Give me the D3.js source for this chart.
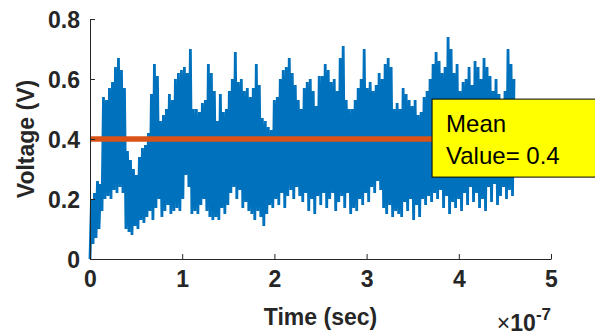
<!DOCTYPE html>
<html>
<head>
<meta charset="utf-8">
<script src="https://cdn.jsdelivr.net/npm/d3@7"></script>
<style>
  html, body { margin: 0; padding: 0; background: #fff; }
  svg { display: block; font-family: "Liberation Sans", Arial, sans-serif; }
</style>
</head>
<body>
<svg width="595" height="335"></svg>
<script>
// Upper and lower swings of the voltage trace, one pair per sampling slot
var hiV = [0.20,0.22,0.26,0.25,0.54,0.53,0.57,0.59,0.64,0.67,0.63,0.57,0.36,0.33,0.30,0.28,0.34,0.37,0.38,0.42,
           0.55,0.65,0.61,0.46,0.48,0.50,0.55,0.53,0.60,0.62,0.63,0.64,0.62,0.70,0.50,0.50,0.49,0.52,0.53,0.65,
           0.62,0.56,0.46,0.55,0.49,0.50,0.56,0.60,0.69,0.59,0.60,0.56,0.57,0.54,0.57,0.65,0.58,0.47,0.46,0.44,
           0.43,0.53,0.54,0.60,0.63,0.64,0.67,0.62,0.58,0.53,0.50,0.57,0.59,0.60,0.56,0.51,0.61,0.61,0.65,0.63,
           0.59,0.60,0.56,0.67,0.71,0.53,0.50,0.50,0.53,0.57,0.60,0.70,0.57,0.59,0.56,0.58,0.62,0.60,0.65,0.67,
           0.64,0.50,0.52,0.50,0.57,0.55,0.53,0.51,0.53,0.48,0.49,0.54,0.56,0.60,0.65,0.69,0.66,0.62,0.64,0.74,
           0.70,0.62,0.65,0.56,0.59,0.60,0.64,0.58,0.66,0.64,0.60,0.67,0.64,0.61,0.56,0.60,0.55,0.53,0.56,0.70,
           0.65,0.60];
var loV = [0.00,0.05,0.07,0.10,0.16,0.20,0.21,0.20,0.23,0.22,0.24,0.22,0.10,0.09,0.08,0.11,0.10,0.13,0.12,0.14,
           0.16,0.13,0.17,0.20,0.14,0.16,0.18,0.15,0.16,0.17,0.16,0.20,0.28,0.24,0.15,0.16,0.15,0.18,0.20,0.16,
           0.14,0.13,0.14,0.13,0.17,0.15,0.18,0.22,0.24,0.20,0.23,0.17,0.19,0.16,0.15,0.13,0.16,0.14,0.11,0.15,
           0.18,0.17,0.20,0.18,0.22,0.17,0.21,0.23,0.20,0.24,0.21,0.19,0.22,0.16,0.20,0.15,0.21,0.18,0.22,0.17,
           0.20,0.22,0.16,0.19,0.21,0.17,0.22,0.15,0.17,0.16,0.20,0.18,0.22,0.19,0.24,0.22,0.26,0.23,0.17,0.15,
           0.18,0.14,0.16,0.15,0.14,0.19,0.16,0.20,0.13,0.18,0.14,0.20,0.18,0.21,0.19,0.22,0.20,0.23,0.17,0.21,
           0.15,0.19,0.17,0.20,0.16,0.22,0.18,0.24,0.19,0.22,0.17,0.20,0.16,0.24,0.19,0.25,0.18,0.21,0.24,0.20,
           0.23,0.21];
var sampleStep = 1.625e-9;           // sec between samples
var meanValue = 0.4;
var xTicks = [0, 1e-7, 2e-7, 3e-7, 4e-7, 5e-7];
var yTicks = [0, 0.2, 0.4, 0.6, 0.8];
var noteLines = ["Mean", "Value= 0.4"];
var noteX = 3.71e-7, noteTop = 0.533, noteBottom = 0.273;

var svg = d3.select("svg"),
    ink = "#262626";

var x = d3.scaleLinear().domain([0, 5e-7]).range([90, 551]),
    y = d3.scaleLinear().domain([0, 0.8]).range([259, 19]);

// trace: lower swing then upper swing for every slot
var trace = [];
for (var k = 0; k < hiV.length; k++) {
  trace.push({t: (2*k) * sampleStep, v: loV[k]});
  trace.push({t: (2*k+1) * sampleStep, v: hiV[k]});
}
var tEnd = trace[trace.length-1].t;

svg.append("path")
    .datum(trace)
    .attr("fill", "none")
    .attr("stroke", "#0072BD")
    .attr("stroke-width", 2.8)
    .attr("stroke-linejoin", "bevel")
    .attr("d", d3.line().x(function(d){return x(d.t);}).y(function(d){return y(d.v);}));

svg.append("line")
    .attr("x1", x(0)).attr("x2", x(tEnd))
    .attr("y1", y(meanValue)).attr("y2", y(meanValue))
    .attr("stroke", "#D95319")
    .attr("stroke-width", 5.5);

// axes (MATLAB style, box off, ticks inward)
var xAxis = svg.append("g")
    .attr("transform", "translate(0," + y(0) + ")")
    .call(d3.axisBottom(x).tickValues(xTicks).tickSizeInner(-5).tickSizeOuter(0)
      .tickFormat(function(d){return Math.round(d/1e-7);}));
var yAxis = svg.append("g")
    .attr("transform", "translate(" + x(0) + ",0)")
    .call(d3.axisLeft(y).tickValues(yTicks).tickSizeInner(-5).tickSizeOuter(0)
      .tickFormat(function(d){return d === 0 ? "0" : d3.format(".1f")(d);}));

[xAxis, yAxis].forEach(function(g){
  g.select(".domain").attr("stroke", ink).attr("stroke-width", 1);
  g.selectAll(".tick line").attr("stroke", ink);
  g.selectAll(".tick text")
    .attr("fill", ink)
    .style("font-size", "23px")
    .style("font-weight", "bold")
    .style("font-family", "Liberation Sans, Arial, sans-serif");
});
xAxis.selectAll(".tick text").attr("y", 12).attr("dy", "0.71em");
yAxis.selectAll(".tick text").attr("x", -10).attr("dy", "0.36em");

svg.append("text")
    .attr("x", (x(0) + x(5e-7)) / 2)
    .attr("y", 325)
    .attr("text-anchor", "middle")
    .attr("fill", ink)
    .style("font-size", "23px").style("font-weight", "bold")
    .text("Time (sec)");

svg.append("text")
    .attr("transform", "translate(34," + ((y(0) + y(0.8)) / 2) + ") rotate(-90)")
    .attr("text-anchor", "middle")
    .attr("fill", ink)
    .style("font-size", "23px").style("font-weight", "bold")
    .text("Voltage (V)");

// exponent label
var expo = svg.append("text")
    .attr("x", x(5e-7))
    .attr("y", 331)
    .attr("text-anchor", "end")
    .attr("fill", ink)
    .style("font-size", "23px").style("font-weight", "bold");
expo.append("tspan").style("font-weight", "normal").text("\u00d7");
expo.append("tspan").text("10");
expo.append("tspan").attr("dy", -11).style("font-size", "17px").text("-7");

// annotation box
var note = svg.append("g");
note.append("rect")
    .attr("x", x(noteX)).attr("y", y(noteTop))
    .attr("width", 200).attr("height", y(noteBottom) - y(noteTop))
    .attr("fill", "#FFFF00")
    .attr("stroke", "#000")
    .attr("stroke-width", 1);
note.selectAll("text.note")
    .data(noteLines)
    .enter().append("text")
      .attr("class", "note")
      .attr("x", x(noteX) + 14)
      .attr("y", function(d, i){return y(noteTop) + 33 + i*32;})
      .attr("fill", "#000")
      .style("font-size", "24px")
      .text(function(d){return d;});
</script>
</body>
</html>
